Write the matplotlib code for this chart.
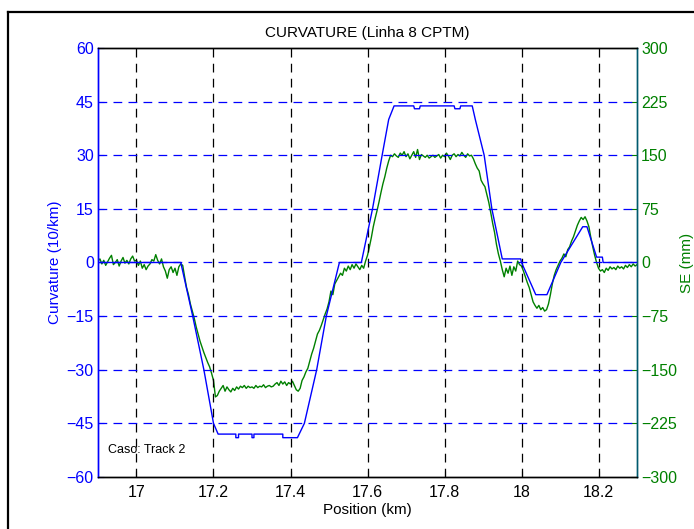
import numpy as np
import matplotlib
matplotlib.use("Agg")
import matplotlib.pyplot as plt
from matplotlib.lines import Line2D

plt.rcParams['font.family'] = ['Liberation Sans', 'DejaVu Sans']

# Curvatura (10/km): pontos de quebra da linha azul
pos_curv = [16.900, 17.115, 17.146, 17.175, 17.200, 17.212,
            17.258, 17.258, 17.265, 17.265, 17.300, 17.300, 17.305, 17.305,
            17.380, 17.380, 17.418, 17.436, 17.468, 17.493, 17.527,
            17.584, 17.613, 17.638, 17.655, 17.669,
            17.720, 17.722, 17.735, 17.737, 17.825, 17.827, 17.840, 17.842,
            17.872, 17.880, 17.903, 17.923, 17.950, 17.998, 18.000,
            18.037, 18.066, 18.102, 18.159, 18.170, 18.195, 18.210, 18.212, 18.300]
curv = [0, 0, -15, -30, -45, -48,
        -48, -49, -49, -48, -48, -49, -49, -48,
        -48, -49, -49, -45, -30, -15, 0,
        0, 15, 30, 40, 43.8,
        43.8, 43, 43, 43.8, 43.8, 43, 43, 43.8,
        43.8, 40, 30, 15, 1, 1, 0,
        -9, -9, 0, 10, 10, 1.5, 1.5, 0, 0]

# Superelevacao SE (mm), amostras a cada 5 m
se = [
    2, 5, -2, 3, -4, 1, 6, 10, -3, 0, 4, -5, 2, 7, -1, 3, -2, 5, 9, 2,
    3, -4, 2, -8, -3, -10, -5, -2, 4, 2, 11, 3, -2, 5, -6, -12, -22, -10, -6, -14,
    -8, -18, -6, -2, -4, -20, -35, -45, -58, -68, -78, -90, -100, -110, -118, -126, -133, -140, -146, -155,
    -165, -188, -186, -180, -176, -172, -180, -174, -178, -181, -176, -179, -174, -177, -173, -175, -172, -176, -173, -175,
    -174, -176, -172, -175, -173, -174, -171, -175, -173, -172, -174, -173, -170, -168, -172, -166, -170, -167, -172, -168,
    -170, -166, -172, -178, -180, -176, -165, -160, -153, -148, -138, -128, -120, -110, -100, -95, -88, -80, -72, -65,
    -55, -40, -45, -30, -25, -20, -15, -18, -8, -12, -5, -10, -3, -8, -2, -6, -10, -4, -8, 2,
    10, 22, 35, 50, 62, 73, 85, 98, 110, 120, 132, 142, 150, 148, 152, 149, 147, 153, 150, 155,
    148, 152, 145, 150, 155, 147, 158, 144, 151, 149, 147, 150, 146, 148, 150, 147, 149, 151, 146, 150,
    148, 153, 149, 144, 150, 152, 148, 151, 149, 154, 150, 147, 152, 149, 150, 145, 138, 132, 128, 115,
    110, 106, 95, 84, 70, 55, 42, 25, 12, 2, -10, -20, -8, -15, -5, -18, -6, -12, 2, -3,
    -5, -12, -20, -28, -35, -45, -55, -60, -64, -60, -66, -63, -68, -66, -58, -45, -30, -18, -10, -4,
    2, 6, 12, 8, 18, 22, 30, 36, 44, 52, 58, 63, 60, 64, 58, 50, 35, 22, 10, 0,
    -8, -12, -10, -14, -8, -11, -6, -9, -7, -10, -5, -8, -6, -9, -4, -7, -3, -6, -2, -5,
    -3]
pos_se = np.linspace(16.9, 18.3, len(se))

x_ticks = [17, 17.2, 17.4, 17.6, 17.8, 18, 18.2]
x_labels = ['17', '17.2', '17.4', '17.6', '17.8', '18', '18.2']
curv_ticks = [-60, -45, -30, -15, 0, 15, 30, 45, 60]
se_ticks = [-300, -225, -150, -75, 0, 75, 150, 225, 300]

blue = '#0000ff'
green = '#008000'

fig = plt.figure(figsize=(6.94, 5.29), dpi=100)
ax = fig.add_axes([0.1412, 0.0983, 0.7767, 0.811])
ax2 = ax.twinx()

# grade
for xt in x_ticks:
    ax.axvline(xt, color='black', lw=0.9, ls=(0, (7, 5)), zorder=0)
for yt in curv_ticks[1:-1]:
    ax.axhline(yt, color=blue, lw=0.9, ls=(0, (7, 5)), zorder=0)

ax2.plot(pos_se, se, color=green, lw=1.0)
ax.plot(pos_curv, curv, color=blue, lw=1.0, zorder=3)
ax.set_zorder(ax2.get_zorder() + 1)
ax.patch.set_visible(False)

ax.set_xlim(16.9, 18.3)
ax.set_ylim(-60, 60)
ax2.set_ylim(-300, 300)
ax.set_xticks(x_ticks)
ax.set_xticklabels(x_labels)
ax.set_yticks(curv_ticks)
ax2.set_yticks(se_ticks)

ax.tick_params(axis='x', direction='in', length=4, labelsize=11.5, pad=6, colors='black')
ax.tick_params(axis='y', direction='in', length=4, labelsize=11.5, colors=blue, pad=3)
ax2.tick_params(axis='y', direction='in', length=4, labelsize=11.5, colors=green, pad=3)

for a in (ax, ax2):
    for s in a.spines.values():
        s.set_linewidth(1.0)
ax.spines['left'].set_color(blue)
ax2.spines['left'].set_color(blue)
ax2.spines['right'].set_color('#005a6e')
ax.spines['right'].set_color('#005a6e')

ax.set_xlabel('Position (km)', fontsize=11, labelpad=2)
ax.set_ylabel('Curvature (10/km)', fontsize=11, color=blue, labelpad=3)
ax2.set_ylabel('SE (mm)', fontsize=11, color=green, labelpad=2)
ax.set_title('CURVATURE (Linha 8 CPTM)', fontsize=11, pad=8)

ax.text(16.926, -52.4, 'Caso: Track 2', fontsize=9, va='center', ha='left')

# moldura da figura
fig.add_artist(Line2D([8 / 694, 1], [1 - 12 / 529, 1 - 12 / 529], color='black', lw=1.6,
                      transform=fig.transFigure))
fig.add_artist(Line2D([8 / 694, 8 / 694], [0, 1 - 12 / 529], color='black', lw=1.6,
                      transform=fig.transFigure))

fig.savefig('out.png', dpi=100)
